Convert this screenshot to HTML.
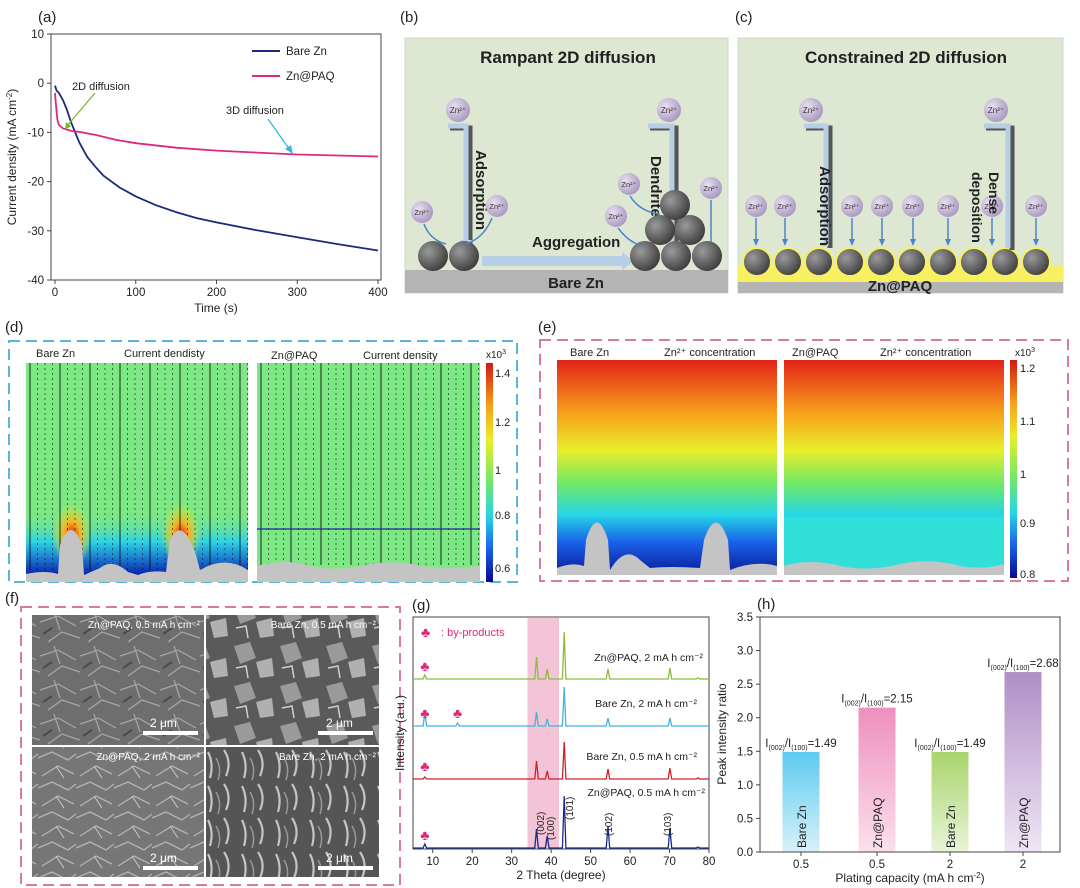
<!DOCTYPE html>
<html><head><meta charset="utf-8">
<style>
body{margin:0;background:#fff;}
svg{display:block;font-family:"Liberation Sans",Arial,sans-serif;}
</style></head>
<body>
<svg id="fig" width="1080" height="888" viewBox="0 0 1080 888" xmlns="http://www.w3.org/2000/svg">
<defs>
 <radialGradient id="ball" cx="35%" cy="35%" r="70%"><stop offset="0" stop-color="#9a9a9a"/><stop offset="1" stop-color="#3c3c3c"/></radialGradient>
 <radialGradient id="ion" cx="35%" cy="35%" r="70%"><stop offset="0" stop-color="#e8e0f0"/><stop offset="1" stop-color="#a998c0"/></radialGradient>
 <linearGradient id="concL" x1="0" y1="0" x2="0" y2="1">
  <stop offset="0" stop-color="#e2231a"/><stop offset="0.25" stop-color="#f7a21b"/><stop offset="0.42" stop-color="#e8ee2a"/><stop offset="0.58" stop-color="#6de86a"/><stop offset="0.72" stop-color="#25d6e6"/><stop offset="0.85" stop-color="#1a60e8"/><stop offset="1" stop-color="#0a1a9a"/></linearGradient>
 <linearGradient id="concR" x1="0" y1="0" x2="0" y2="1">
  <stop offset="0" stop-color="#e2231a"/><stop offset="0.25" stop-color="#f7a21b"/><stop offset="0.42" stop-color="#e8ee2a"/><stop offset="0.58" stop-color="#6de86a"/><stop offset="0.72" stop-color="#25d6e6"/><stop offset="0.74" stop-color="#30e0d8"/><stop offset="1" stop-color="#30e0d8"/></linearGradient>
 <linearGradient id="cbar" x1="0" y1="0" x2="0" y2="1">
  <stop offset="0" stop-color="#d01a10"/><stop offset="0.2" stop-color="#f7a21b"/><stop offset="0.35" stop-color="#e8ee2a"/><stop offset="0.55" stop-color="#6de86a"/><stop offset="0.7" stop-color="#25d6e6"/><stop offset="0.85" stop-color="#1a60e8"/><stop offset="1" stop-color="#0a0a90"/></linearGradient>
 <linearGradient id="bottomBlue" x1="0" y1="0" x2="0" y2="1"><stop offset="0" stop-color="#7be883" stop-opacity="0"/><stop offset="0.5" stop-color="#2ad0e8"/><stop offset="1" stop-color="#0a20b0"/></linearGradient>
 <radialGradient id="hot" cx="50%" cy="50%" r="50%"><stop offset="0" stop-color="#e02010"/><stop offset="0.4" stop-color="#f5b020"/><stop offset="1" stop-color="#e8ee2a" stop-opacity="0"/></radialGradient>
 <linearGradient id="gC" x1="0" y1="0" x2="0" y2="1"><stop offset="0" stop-color="#5ccbef"/><stop offset="1" stop-color="#d8f1fa"/></linearGradient>
 <linearGradient id="gP" x1="0" y1="0" x2="0" y2="1"><stop offset="0" stop-color="#ee8fbd"/><stop offset="1" stop-color="#fbe0ec"/></linearGradient>
 <linearGradient id="gG" x1="0" y1="0" x2="0" y2="1"><stop offset="0" stop-color="#a9d46c"/><stop offset="1" stop-color="#e8f4d8"/></linearGradient>
 <linearGradient id="gV" x1="0" y1="0" x2="0" y2="1"><stop offset="0" stop-color="#b08ec6"/><stop offset="1" stop-color="#efe6f4"/></linearGradient>
 <pattern id="sem1" width="40" height="34" patternUnits="userSpaceOnUse"><rect width="40" height="34" fill="#6e6e6e"/><path d="M0 10 L18 4 L36 14 M8 30 L22 20 L40 26 M14 0 L20 18" stroke="#a8a8a8" stroke-width="1.2" fill="none"/><path d="M3 22 L12 16" stroke="#4a4a4a" stroke-width="2"/></pattern>
 <pattern id="sem2" width="46" height="40" patternUnits="userSpaceOnUse"><rect width="46" height="40" fill="#5a5a5a"/><path d="M4 6 L20 2 L26 18 L10 24 Z" fill="#9a9a9a"/><path d="M26 22 L42 18 L44 36 L30 38 Z" fill="#b0b0b0"/><path d="M6 28 L16 26 L18 38" stroke="#cfcfcf" stroke-width="1.5" fill="none"/></pattern>
 <pattern id="sem3" width="38" height="30" patternUnits="userSpaceOnUse"><rect width="38" height="30" fill="#767676"/><path d="M0 8 L14 2 L30 10 L38 4 M4 26 L20 16 L36 24" stroke="#b4b4b4" stroke-width="1.3" fill="none"/><path d="M18 16 L26 28" stroke="#cacaca" stroke-width="1"/></pattern>
 <pattern id="sem4" width="34" height="34" patternUnits="userSpaceOnUse"><rect width="34" height="34" fill="#555"/><path d="M4 4 Q10 16 6 30 M20 2 Q28 14 22 28" stroke="#c4c4c4" stroke-width="2.2" fill="none"/><path d="M12 10 Q18 20 14 32" stroke="#999" stroke-width="1.5" fill="none"/></pattern>
</defs>

<!-- ========== (a) ========== -->
<g id="panelA">
 <text x="38" y="22" font-size="15" fill="#222">(a)</text>
 <rect x="51" y="34" width="330" height="246" fill="none" stroke="#444" stroke-width="1"/>
 <g id="aTicks"></g>
 <text transform="translate(16,157) rotate(-90)" text-anchor="middle" font-size="12" fill="#222">Current density (mA cm<tspan dy="-4" font-size="8">-2</tspan><tspan dy="4">)</tspan></text>
 <text x="216" y="312" text-anchor="middle" font-size="12" fill="#222">Time (s)</text>
 <g id="aLines"></g>
 <line x1="252" y1="51" x2="280" y2="51" stroke="#1b2a7a" stroke-width="2"/>
 <text x="286" y="55" font-size="11.5" fill="#222">Bare Zn</text>
 <line x1="252" y1="76" x2="280" y2="76" stroke="#e0287a" stroke-width="2"/>
 <text x="286" y="80" font-size="11.5" fill="#222">Zn@PAQ</text>
 <text x="72" y="90" font-size="11" fill="#222">2D diffusion</text>
 <line x1="95" y1="93" x2="67" y2="126" stroke="#7ab82e" stroke-width="1.3"/>
 <polygon points="65,130 66,122 71,126" fill="#7ab82e"/>
 <text x="226" y="114" font-size="11" fill="#222">3D diffusion</text>
 <line x1="268" y1="119" x2="290" y2="150" stroke="#3bb5e0" stroke-width="1.3"/>
 <polygon points="293,154 285,149 291,145" fill="#3bb5e0"/>
</g>

<!-- ========== (b) ========== -->
<g>
 <text x="400" y="22" font-size="15" fill="#222">(b)</text>
 <rect x="405" y="38" width="323" height="255" fill="#dde7d2" stroke="#cfd8c4"/>
 <text x="568" y="63" text-anchor="middle" font-size="17" font-weight="bold" fill="#222">Rampant 2D diffusion</text>
 <rect x="405" y="270" width="323" height="23" fill="#b4b4b4"/>
 <text x="576" y="288" text-anchor="middle" font-size="15" font-weight="bold" fill="#222">Bare Zn</text>
 <circle cx="458" cy="110" r="12" fill="url(#ion)"/><text x="458" y="113" text-anchor="middle" font-size="8" fill="#333">Zn²⁺</text>
 <path d="M450 128 H470 V245" stroke="#555" stroke-width="5" fill="none"/>
 <path d="M448 126 H466 V240" stroke="#b7cfe6" stroke-width="5" fill="none"/>
 <polygon points="460,240 472,240 466,250" fill="#b7cfe6"/>
 <text transform="translate(476,150) rotate(90)" font-size="15" font-weight="bold" fill="#222">Adsorption</text>
 <circle cx="669" cy="110" r="12" fill="url(#ion)"/><text x="669" y="113" text-anchor="middle" font-size="8" fill="#333">Zn²⁺</text>
 <path d="M650 128 H676 V250" stroke="#555" stroke-width="5" fill="none"/>
 <path d="M648 126 H672 V248" stroke="#b7cfe6" stroke-width="5" fill="none"/>
 <text transform="translate(651,156) rotate(90)" font-size="15" font-weight="bold" fill="#222">Dendrite</text>
 <rect x="482" y="256" width="140" height="10" fill="#b7cfe6"/>
 <polygon points="622,252 634,261 622,270" fill="#b7cfe6"/>
 <text x="532" y="247" font-size="15" font-weight="bold" fill="#222">Aggregation</text>
 <circle cx="433" cy="256" r="15" fill="url(#ball)"/><circle cx="464" cy="256" r="15" fill="url(#ball)"/>
 <circle cx="645" cy="256" r="15" fill="url(#ball)"/><circle cx="676" cy="256" r="15" fill="url(#ball)"/><circle cx="707" cy="256" r="15" fill="url(#ball)"/>
 <circle cx="660" cy="230" r="15" fill="url(#ball)"/><circle cx="690" cy="230" r="15" fill="url(#ball)"/><circle cx="675" cy="205" r="15" fill="url(#ball)"/>
 <circle cx="422" cy="212" r="11" fill="url(#ion)"/><text x="422" y="215" text-anchor="middle" font-size="7.5" fill="#333">Zn²⁺</text>
 <circle cx="497" cy="206" r="11" fill="url(#ion)"/><text x="497" y="209" text-anchor="middle" font-size="7.5" fill="#333">Zn²⁺</text>
 <circle cx="629" cy="184" r="11" fill="url(#ion)"/><text x="629" y="187" text-anchor="middle" font-size="7.5" fill="#333">Zn²⁺</text>
 <circle cx="616" cy="216" r="11" fill="url(#ion)"/><text x="616" y="219" text-anchor="middle" font-size="7.5" fill="#333">Zn²⁺</text>
 <circle cx="711" cy="188" r="11" fill="url(#ion)"/><text x="711" y="191" text-anchor="middle" font-size="7.5" fill="#333">Zn²⁺</text>
 <g stroke="#4a86c8" stroke-width="1.5" fill="none">
  <path d="M424 224 Q430 240 446 244"/><path d="M492 218 Q484 238 466 244"/><path d="M630 196 Q640 212 660 214"/><path d="M618 228 Q630 244 644 246"/><path d="M711 200 V242"/>
 </g>
</g>

<!-- ========== (c) ========== -->
<g>
 <text x="735" y="22" font-size="15" fill="#222">(c)</text>
 <rect x="738" y="38" width="325" height="255" fill="#dde7d2" stroke="#cfd8c4"/>
 <text x="906" y="63" text-anchor="middle" font-size="17" font-weight="bold" fill="#222">Constrained 2D diffusion</text>
 <rect x="738" y="282" width="325" height="11" fill="#b4b4b4"/>
 <rect x="738" y="266" width="325" height="16" fill="#f7f060"/>
 <text x="900" y="291" text-anchor="middle" font-size="15" font-weight="bold" fill="#222">Zn@PAQ</text>
 <g id="cBalls"></g>
 <circle cx="811" cy="110" r="12" fill="url(#ion)"/><text x="811" y="113" text-anchor="middle" font-size="8" fill="#333">Zn²⁺</text>
 <path d="M806 128 H830 V248" stroke="#555" stroke-width="5" fill="none"/>
 <path d="M804 126 H826 V246" stroke="#b7cfe6" stroke-width="5" fill="none"/>
 <text transform="translate(820,166) rotate(90)" font-size="15" font-weight="bold" fill="#222">Adsorption</text>
 <circle cx="996" cy="110" r="12" fill="url(#ion)"/><text x="996" y="113" text-anchor="middle" font-size="8" fill="#333">Zn²⁺</text>
 <path d="M986 128 H1012 V250" stroke="#555" stroke-width="5" fill="none"/>
 <path d="M984 126 H1008 V248" stroke="#b7cfe6" stroke-width="5" fill="none"/>
 <text transform="translate(989,172) rotate(90)" font-size="14" font-weight="bold" fill="#222">Dense</text>
 <text transform="translate(972,172) rotate(90)" font-size="14" font-weight="bold" fill="#222">deposition</text>
</g>

<!-- ========== (d) ========== -->
<g>
 <text x="5" y="332" font-size="15" fill="#222">(d)</text>
 <rect x="9" y="341" width="508" height="241" fill="none" stroke="#5ab4dc" stroke-width="2" stroke-dasharray="11,6"/>
 <text x="36" y="357" font-size="11" fill="#222">Bare Zn</text>
 <text x="124" y="357" font-size="11" fill="#222">Current dendisty</text>
 <text x="271" y="359" font-size="11" fill="#222">Zn@PAQ</text>
 <text x="363" y="359" font-size="11" fill="#222">Current density</text>
 <g>
  <rect x="26" y="363" width="222" height="212" fill="#7be883"/>
  <rect x="26" y="510" width="222" height="65" fill="url(#bottomBlue)"/>
  <ellipse cx="72" cy="535" rx="20" ry="32" fill="url(#hot)"/>
  <ellipse cx="181" cy="535" rx="20" ry="32" fill="url(#hot)"/>
  <g id="dLinesL"></g>
  <path d="M26 575 L26 574 Q45 570 58 574 L60 545 Q71 515 82 545 L84 575 L100 568 Q112 558 128 572 L138 575 Q150 570 166 572 L170 540 Q182 515 196 555 L200 570 Q225 555 248 570 L248 582 L26 582 Z" fill="#c4c4c4"/>
 </g>
 <g>
  <rect x="257" y="363" width="223" height="212" fill="#7be883"/>
  <g id="dLinesR"></g>
  <line x1="257" y1="529" x2="480" y2="529" stroke="#1a2aa0" stroke-width="1.2"/>
  <path d="M257 566 Q285 558 310 566 Q340 572 370 564 Q400 560 420 566 Q450 570 480 566 L480 582 L257 582 Z" fill="#c4c4c4"/>
 </g>
 <rect x="486" y="363" width="7" height="219" fill="url(#cbar)"/>
 <text x="486" y="358" font-size="10" fill="#222">x10<tspan dy="-4" font-size="7">3</tspan></text>
 <g font-size="11" fill="#222"><text x="495" y="377">1.4</text><text x="495" y="426">1.2</text><text x="495" y="474">1</text><text x="495" y="519">0.8</text><text x="495" y="572">0.6</text></g>
</g>

<!-- ========== (e) ========== -->
<g>
 <text x="538" y="332" font-size="15" fill="#222">(e)</text>
 <rect x="540" y="340" width="528" height="241" fill="none" stroke="#d97aa6" stroke-width="2" stroke-dasharray="11,6"/>
 <text x="570" y="356" font-size="11" fill="#222">Bare Zn</text>
 <text x="664" y="356" font-size="11" fill="#222">Zn²⁺ concentration</text>
 <text x="792" y="356" font-size="11" fill="#222">Zn@PAQ</text>
 <text x="880" y="356" font-size="11" fill="#222">Zn²⁺ concentration</text>
 <rect x="557" y="360" width="220" height="215" fill="url(#concL)"/>
 <path d="M557 575 L557 568 Q572 562 584 566 L586 540 Q597 505 608 540 L610 570 Q625 545 640 560 L650 568 Q670 566 700 568 L704 540 Q716 505 728 540 L730 570 Q755 560 777 566 L777 575 Z" fill="#c4c4c4"/>
 <rect x="784" y="360" width="220" height="215" fill="url(#concR)"/>
 <path d="M784 566 Q810 558 840 566 Q870 572 900 564 Q930 558 960 566 Q985 570 1004 564 L1004 575 L784 575 Z" fill="#c4c4c4"/>
 <rect x="1010" y="360" width="7" height="218" fill="url(#cbar)"/>
 <text x="1015" y="356" font-size="10" fill="#222">x10<tspan dy="-4" font-size="7">3</tspan></text>
 <g font-size="11" fill="#222"><text x="1020" y="372">1.2</text><text x="1020" y="425">1.1</text><text x="1020" y="478">1</text><text x="1020" y="527">0.9</text><text x="1020" y="578">0.8</text></g>
</g>

<!-- ========== (f) ========== -->
<g>
 <text x="5" y="603" font-size="15" fill="#222">(f)</text>
 <rect x="21" y="607" width="379" height="278" fill="none" stroke="#d97aa6" stroke-width="2" stroke-dasharray="11,6"/>
 <rect x="32" y="615" width="172" height="130" fill="url(#sem1)"/>
 <rect x="206" y="615" width="173" height="130" fill="url(#sem2)"/>
 <rect x="32" y="747" width="172" height="130" fill="url(#sem3)"/>
 <rect x="206" y="747" width="173" height="130" fill="url(#sem4)"/>
 <g font-size="10" fill="#fff">
  <text x="200" y="628" text-anchor="end">Zn@PAQ, 0.5 mA h cm⁻²</text>
  <text x="376" y="628" text-anchor="end">Bare Zn, 0.5 mA h cm⁻²</text>
  <text x="200" y="760" text-anchor="end">Zn@PAQ, 2 mA h cm⁻²</text>
  <text x="376" y="760" text-anchor="end">Bare Zn, 2 mA h cm⁻²</text>
  <text x="150" y="727" font-size="12">2 μm</text><text x="326" y="727" font-size="12">2 μm</text>
  <text x="150" y="862" font-size="12">2 μm</text><text x="326" y="862" font-size="12">2 μm</text>
 </g>
 <g fill="#fff"><rect x="143" y="731" width="55" height="4"/><rect x="318" y="731" width="55" height="4"/><rect x="143" y="866" width="55" height="4"/><rect x="318" y="866" width="55" height="4"/></g>
</g>

<!-- ========== (g) ========== -->
<g id="panelG">
 <text x="412" y="610" font-size="15" fill="#222">(g)</text>
 <g id="gBand"></g>
 <rect x="413" y="617" width="296" height="232" fill="none" stroke="#444"/>
 <g id="gTicks"></g>
 <g id="gLines"></g>
 <text transform="translate(404,733) rotate(-90)" text-anchor="middle" font-size="12" fill="#222">Intensity (a.u.)</text>
 <text x="561" y="879" text-anchor="middle" font-size="12" fill="#222">2 Theta (degree)</text>
 <text x="421" y="637" font-size="14" fill="#e0287a">♣</text>
 <text x="441" y="636" font-size="11" fill="#e0287a">: by-products</text>
 <g font-size="10.5" fill="#222">
  <text x="703" y="661" text-anchor="end">Zn@PAQ, 2 mA h cm⁻²</text>
  <text x="697" y="707" text-anchor="end">Bare Zn, 2 mA h cm⁻²</text>
  <text x="697" y="760" text-anchor="end">Bare Zn, 0.5 mA h cm⁻²</text>
  <text x="705" y="796" text-anchor="end">Zn@PAQ, 0.5 mA h cm⁻²</text>
 </g>
 <g font-size="10" fill="#222">
  <text transform="translate(544,835) rotate(-90)">(002)</text>
  <text transform="translate(554,840) rotate(-90)">(100)</text>
  <text transform="translate(573,820) rotate(-90)">(101)</text>
  <text transform="translate(612,836) rotate(-90)">(102)</text>
  <text transform="translate(671,836) rotate(-90)">(103)</text>
 </g>
 <g id="gClubs" font-size="14" fill="#e0287a"></g>
</g>

<!-- ========== (h) ========== -->
<g id="panelH">
 <text x="757" y="609" font-size="15" fill="#222">(h)</text>
 <g id="hBars"></g>
 <rect x="760" y="617" width="300" height="235" fill="none" stroke="#444"/>
 <g id="hTicks"></g>
 <text transform="translate(726,734) rotate(-90)" text-anchor="middle" font-size="12" fill="#222">Peak intensity ratio</text>
 <text x="910" y="882" text-anchor="middle" font-size="12" fill="#222">Plating capacity (mA h cm<tspan dy="-4" font-size="8">-2</tspan><tspan dy="4">)</tspan></text>
</g>
</svg>

<script>
var NS="http://www.w3.org/2000/svg";
function mk(tag,attrs,parent,txt){var e=document.createElementNS(NS,tag);for(var k in attrs)e.setAttribute(k,attrs[k]);if(txt!==undefined)e.textContent=txt;parent.appendChild(e);return e;}

/* ---- (a) data ---- */
var aBareT=[0,2,5,10,15,20,30,40,50,60,80,100,125,150,175,200,250,300,350,400];
var aBareV=[-0.5,-1.5,-2.0,-3.5,-5.5,-8,-12,-15,-17,-18.8,-21.2,-23,-24.8,-26.2,-27.4,-28.3,-29.9,-31.3,-32.7,-34];
var aPaqT=[0,1,3,5,10,20,30,50,75,100,150,200,250,300,350,400];
var aPaqV=[-2,-4,-7.5,-8.5,-9.2,-9.7,-9.9,-10.5,-11.5,-12.2,-13.1,-13.7,-14.1,-14.5,-14.7,-14.9];
var aXTicks=[0,100,200,300,400];
var aYTicks=[10,0,-10,-20,-30,-40];
function ax(t){return 55+t*(378-55)/400;}
function ay(v){return 34+(10-v)*(280-34)/50;}
(function(){
 var g=document.getElementById('aTicks');
 aXTicks.forEach(function(t){mk('line',{x1:ax(t),y1:280,x2:ax(t),y2:284,stroke:'#444'},g);var tx=mk('text',{x:ax(t),y:296,'text-anchor':'middle','font-size':11.5,fill:'#222'},g,t);
  
  });
 aYTicks.forEach(function(v){mk('line',{x1:47,y1:ay(v),x2:51,y2:ay(v),stroke:'#444'},g);var tx=mk('text',{x:44,y:ay(v)+4,'text-anchor':'end','font-size':11.5,fill:'#222'},g,v);
  
  });
 var L=document.getElementById('aLines');
 function line(T,V,c,n){var d=T.map(function(t,i){return (i?'L':'M')+ax(t).toFixed(1)+' '+ay(V[i]).toFixed(1);}).join(' ');var p=mk('path',{d:d,stroke:c,'stroke-width':1.8,fill:'none'},L);
  
  }
 line(aBareT,aBareV,'#1b2a7a','line-bare-zn');
 line(aPaqT,aPaqV,'#e0287a','line-zn-paq');
})();

/* ---- (c) balls ---- */
(function(){
 var g=document.getElementById('cBalls');
 for(var i=0;i<10;i++){var cx=757+i*31;mk('circle',{cx:cx,cy:262,r:14,fill:'url(#ball)',stroke:'#f7f060','stroke-width':2},g);}
 [756,785,852,882,913,948,992,1036].forEach(function(x){
  mk('circle',{cx:x,cy:206,r:11,fill:'url(#ion)'},g);mk('text',{x:x,y:209,'text-anchor':'middle','font-size':7.5,fill:'#333'},g,'Zn²⁺');
  mk('line',{x1:x,y1:218,x2:x,y2:240,stroke:'#4a86c8','stroke-width':1.5},g);
  mk('polygon',{points:(x-3)+',239 '+(x+3)+',239 '+x+',246',fill:'#4a86c8'},g);});
})();

/* ---- (d) streamlines ---- */
(function(){
 var gl=document.getElementById('dLinesL'),gr=document.getElementById('dLinesR');
 for(var x=30;x<248;x+=7.5){mk('line',{x1:x,y1:363,x2:x,y2:570,stroke:'#111','stroke-width':(Math.round((x-30)/7.5)%4===0)?0.9:0.6,'stroke-dasharray':(Math.round((x-30)/7.5)%4===0)?'':'2,3'},gl);}
 for(var x2=261;x2<480;x2+=7.5){mk('line',{x1:x2,y1:363,x2:x2,y2:565,stroke:'#111','stroke-width':(Math.round((x2-261)/7.5)%4===0)?0.9:0.6,'stroke-dasharray':(Math.round((x2-261)/7.5)%4===0)?'':'2,3'},gr);}
})();

/* ---- (g) data ---- */
var gXTicks=[10,20,30,40,50,60,70,80];
var gPeakPos=[8.0,16.3,36.3,39.0,43.3,54.4,70.1,77.2];
var gSeriesNames=['zn-paq-0-5','bare-zn-0-5','bare-zn-2','zn-paq-2'];
var gColors=['#1b2a8a','#d0202a','#42b4e0','#8cbc3c'];
var gBaselines=[0,1,2,3];
var gPeaksPaq05=[4,0,19,12,52,22,20,1];
var gPeaksBare05=[2,0,18,8,37,10,11,1];
var gPeaksBare2=[13,3,14,7,39,8,8,0];
var gPeaksPaq2=[4,0,22,10,47,10,11,1];
function gx(t){return 413+(t-5)*(709-413)/75;}
var gBaseY=[848,779,726,679];
function gy(series,v){return gBaseY[gBaselines[series]]-v;}
(function(){
 var band=mk('rect',{x:gx(34),y:618,width:gx(42)-gx(34),height:230,fill:'#f2c4d6'},document.getElementById('gBand'));
 
 
 var t=document.getElementById('gTicks');
 gXTicks.forEach(function(v){mk('line',{x1:gx(v),y1:849,x2:gx(v),y2:853,stroke:'#444'},t);var tx=mk('text',{x:gx(v),y:865,'text-anchor':'middle','font-size':11.5,fill:'#222'},t,v);
  
  });
 var L=document.getElementById('gLines');
 var all=[gPeaksPaq05,gPeaksBare05,gPeaksBare2,gPeaksPaq2];
 all.forEach(function(pk,s){
  var d='M'+gx(5)+' '+gy(s,0);
  gPeakPos.forEach(function(p,i){var h=pk[i];if(!h)return;d+=' L'+gx(p-0.45).toFixed(1)+' '+gy(s,0)+' L'+gx(p).toFixed(1)+' '+gy(s,h).toFixed(1)+' L'+gx(p+0.45).toFixed(1)+' '+gy(s,0);});
  d+=' L'+gx(80)+' '+gy(s,0);
  var path=mk('path',{d:d,stroke:gColors[s],'stroke-width':1.3,fill:'none'},L);
  
  
 });
 var c=document.getElementById('gClubs');
 [[8,848],[8,779],[8,726],[16.3,726],[8,679]].forEach(function(p){mk('text',{x:gx(p[0]),y:p[1]-8,'text-anchor':'middle'},c,'♣');});
})();

/* ---- (h) data ---- */
var hCats=['0.5','0.5','2','2'];
var hValues=[1.49,2.15,1.49,2.68];
var hLabels=['Bare Zn','Zn@PAQ','Bare Zn','Zn@PAQ'];
var hFills=['url(#gC)','url(#gP)','url(#gG)','url(#gV)'];
var hYTicks=[0,0.5,1.0,1.5,2.0,2.5,3.0,3.5];
var hCenters=[801,877,950,1023];
function hy(v){return 852-v*235/3.5;}
(function(){
 var b=document.getElementById('hBars'),t=document.getElementById('hTicks');
 hValues.forEach(function(v,i){
  var cx=hCenters[i];
  var r=mk('rect',{x:cx-18.5,y:hy(v),width:37,height:hy(0)-hy(v),fill:hFills[i]},b);
  
  
  mk('text',{transform:'translate('+(cx+5)+',848) rotate(-90)','font-size':12,fill:'#222'},b,hLabels[i]);
  var lab=mk('text',{x:cx,y:hy(v)-5,'text-anchor':'middle','font-size':11.5,fill:'#222'},b);
  
  
  lab.innerHTML='I<tspan font-size="7" dy="3">(002)</tspan><tspan dy="-3">/I</tspan><tspan font-size="7" dy="3">(100)</tspan><tspan dy="-3">='+v.toFixed(2)+'</tspan>';
  mk('line',{x1:cx,y1:852,x2:cx,y2:856,stroke:'#444'},t);
  var tx=mk('text',{x:cx,y:868,'text-anchor':'middle','font-size':11.5,fill:'#222'},t,hCats[i]);
  
  
 });
 hYTicks.forEach(function(v){mk('line',{x1:756,y1:hy(v),x2:760,y2:hy(v),stroke:'#444'},t);var tx=mk('text',{x:753,y:hy(v)+4,'text-anchor':'end','font-size':11.5,fill:'#222'},t,v.toFixed(1));
  
  });
})();
</script>
</body></html>
